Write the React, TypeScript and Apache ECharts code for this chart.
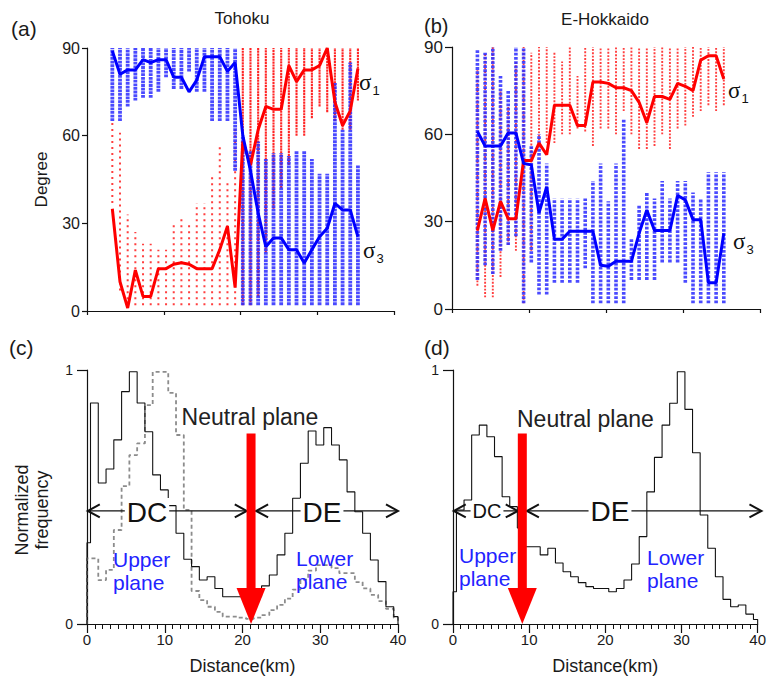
import React, { useEffect, useRef } from "react";
import * as echarts from "echarts";

const FONT = "'Liberation Sans', Arial, Helvetica, sans-serif";

// Column distances (km) of the stress-axis scatter columns
const COL_KM = [3.3, 4.3, 5.3, 6.3, 7.3, 8.3, 9.3, 10.3, 11.3, 12.3, 13.3, 14.3, 15.3, 16.3, 17.3, 18.3, 19.3, 20.3, 21.3, 22.3, 23.3, 24.3, 25.3, 26.3, 27.3, 28.3, 29.3, 30.3, 31.3, 32.3, 33.3, 34.3, 35.3];

// (a) Tohoku
const A_SIGMA1 = [35, 10, 1, 14, 5, 5, 14.5, 14.5, 16, 16.5, 16, 14.5, 14.5, 14.5, 21, 29, 8, 58, 50, 62, 70, 69, 69, 84, 78.5, 82.5, 82.5, 84, 90, 71.5, 63.5, 68.5, 83];
const A_SIGMA3 = [89, 81, 82.5, 82.5, 86, 85, 86, 86, 80, 80, 75, 79, 87, 87, 87, 82, 85, 60, 48, 33.5, 22, 25, 25, 21, 21, 16.4, 21, 25.4, 28.3, 36.8, 34.6, 34.6, 25.4];
const A_RED_LO = [37, 7, 2, 2, 2, 2, 2, 2, 2, 2, 2, 2, 2, 2, 2, 2, 2, 2, 2, 5, 20, 35, 42, 50, 60, 60, 66, 70, 68, 65, 62, 62, 72];
const A_RED_HI = [65, 61, 33, 27, 23, 23, 21, 21, 30, 32, 30, 37, 37, 47, 56, 45, 63, 90, 90, 90, 90, 90, 90, 90, 90, 90, 90, 90, 90, 90, 90, 90, 90];
const A_BLUE_LO = [65, 65, 70, 72, 73, 73, 75, 80, 76, 76, 82, 75, 75, 65, 65, 65, 48, 2, 2, 2, 2, 2, 2, 2, 2, 2, 2, 2, 2, 2, 2, 2, 2];
const A_BLUE_HI = [90, 90, 90, 90, 90, 90, 90, 90, 90, 90, 90, 90, 90, 90, 90, 90, 90, 60, 55, 58, 52, 54, 54, 53, 55, 55, 52, 47, 47, 78, 62, 85, 50];
const A_DENSE_RED_FROM = 17; // columns from this index on have dense red dots

// (b) E-Hokkaido
const B_SIGMA1 = [27, 38, 27, 37, 31, 31, 51, 51, 57, 53, 70, 70, 70, 63, 63, 78, 78, 77.5, 76, 76, 75, 71, 64, 73, 73, 72, 77.5, 76.5, 75, 85.5, 87, 87, 79];
const B_SIGMA3 = [61, 56, 56, 56, 60.5, 60.5, 50, 49.5, 33, 42, 24, 24, 26.7, 26.7, 26.7, 26.7, 15, 14.7, 16.4, 16.4, 16.4, 26, 34, 27, 27, 27, 39, 37.5, 30.7, 30.7, 9, 9, 26];
const B_RED_LO = [8, 4, 4, 11, 22, 20, 2, 20, 58, 57, 57, 60, 60, 62, 61, 56, 62, 62, 60, 68, 60, 55, 55, 56, 60, 55, 62, 63, 66, 68, 70, 68, 70];
const B_RED_HI = [82, 88, 90, 75, 70, 85, 90, 88, 90, 90, 88, 85, 90, 80, 90, 90, 90, 90, 90, 90, 90, 90, 90, 90, 90, 90, 90, 90, 90, 90, 90, 90, 90];
const B_BLUE_LO = [10, 15, 12, 20, 22, 25, 2, 16, 5, 5, 9, 9, 9, 9, 14, 2, 2, 2, 2, 2, 10, 10, 10, 10, 16, 16, 16, 9, 2, 2, 2, 2, 2];
const B_BLUE_HI = [89, 88, 90, 80, 75, 90, 90, 56, 60, 50, 38, 38, 38, 38, 38, 44, 50, 37, 50, 65, 24, 36, 40, 38, 44, 38, 44, 44, 40, 38, 47, 47, 47];

// Histograms: first bin [0,0.45], then 1-km bins from 0.45 km, last [39.45,40]
const BIN_OFFSET = 0.45;
const C_SOLID = [0.32, 0.87, 0.555, 0.61, 0.725, 0.915, 0.993, 0.87, 0.757, 0.587, 0.528, 0.466, 0.357, 0.255, 0.226, 0.173, 0.186, 0.14, 0.107, 0.107, 0.107, 0.107, 0.107, 0.15, 0.193, 0.272, 0.357, 0.495, 0.633, 0.76, 0.705, 0.773, 0.705, 0.646, 0.52, 0.442, 0.357, 0.252, 0.167, 0.068, 0.029];
const C_DASHED = [0.258, 0.258, 0.173, 0.213, 0.37, 0.543, 0.665, 0.711, 0.862, 0.993, 0.993, 0.91, 0.744, 0.449, 0.13, 0.094, 0.068, 0.048, 0.029, 0.029, 0.025, 0.02, 0.025, 0.035, 0.055, 0.075, 0.1, 0.135, 0.175, 0.21, 0.232, 0.232, 0.22, 0.2, 0.2, 0.165, 0.14, 0.115, 0.09, 0.06, 0.025];
const D_SOLID = [0.127, 0.449, 0.488, 0.744, 0.783, 0.737, 0.659, 0.501, 0.462, 0.378, 0.304, 0.304, 0.272, 0.298, 0.24, 0.206, 0.186, 0.163, 0.147, 0.14, 0.14, 0.127, 0.14, 0.173, 0.236, 0.344, 0.52, 0.656, 0.783, 0.869, 0.993, 0.845, 0.674, 0.429, 0.298, 0.186, 0.097, 0.068, 0.075, 0.039, 0.018];

// Annotation positions (data units)
const NEUTRAL_C = 21.1;
const NEUTRAL_D = 9.1;
const ARROW_Y = 0.445;
const C_DC = [0.1, 20.55];
const C_DE = [21.75, 40];
const D_DC = [0.1, 8.5];
const D_DE = [9.7, 40.5];

const DIST_TICKS = [0, 10, 20, 30, 40];
const DEG_TICKS = [0, 30, 60, 90];

const EDGES = [0, ...C_SOLID.slice(1).map((_, i) => i + BIN_OFFSET), 40];

function stepPoints(vals: number[]) {
  const pts: number[][] = [[0, 0]];
  vals.forEach((v, i) => {
    pts.push([EDGES[i], v], [EDGES[i + 1], v]);
  });
  pts.push([40, 0]);
  return pts;
}

function ranges(lo: number[], hi: number[], from = 0, to = COL_KM.length) {
  const out: number[][] = [];
  for (let i = from; i < to; i++) out.push([COL_KM[i], lo[i], hi[i]]);
  return out;
}

function rangeSeries(g: number, data: number[][], color: string, width: number, dash: number[], opacity: number) {
  return {
    type: "custom",
    xAxisIndex: g,
    yAxisIndex: g,
    silent: true,
    z: 2,
    encode: { x: 0, y: [1, 2] },
    data,
    renderItem: (_p: any, api: any) => {
      const x = api.value(0);
      const a = api.coord([x, api.value(1)]);
      const b = api.coord([x, api.value(2)]);
      return {
        type: "line",
        shape: { x1: a[0], y1: a[1], x2: b[0], y2: b[1] },
        style: { stroke: color, lineWidth: width, lineDash: dash, opacity },
      };
    },
  };
}

function sigmaLine(g: number, vals: number[], color: string) {
  return {
    type: "line",
    xAxisIndex: g,
    yAxisIndex: g,
    data: COL_KM.map((x, i) => [x, vals[i]]),
    showSymbol: false,
    symbol: "none",
    z: 5,
    silent: true,
    lineStyle: { color, width: 3 },
  };
}

function histLine(g: number, vals: number[], color: string, width: number, type: any) {
  return {
    type: "line",
    xAxisIndex: g,
    yAxisIndex: g,
    data: stepPoints(vals),
    showSymbol: false,
    symbol: "none",
    silent: true,
    z: 3,
    lineStyle: { color, width, type },
  };
}

const axisLine = { show: true, lineStyle: { color: "#111", width: 1.2 } };

function topX(g: number) {
  return {
    type: "value", gridIndex: g, min: 0, max: 40, interval: 10,
    axisLine, axisTick: { show: true, length: 4, lineStyle: { color: "#111", width: 1.2 } },
    axisLabel: { show: false }, splitLine: { show: false },
  };
}
function topY(g: number, fs: number, margin: number, tick: number, name?: string) {
  return {
    type: "value", gridIndex: g, min: 0, max: 90, interval: 30,
    axisLine, axisTick: { show: true, length: tick, lineStyle: { color: "#111", width: 1.2 } },
    axisLabel: { fontSize: fs, color: "#1a1a1a", fontFamily: FONT, margin, formatter: (v: number) => (DEG_TICKS.includes(v) ? String(v) : "") },
    splitLine: { show: false },
    name, nameLocation: "middle", nameGap: 37, nameRotate: 90,
    nameTextStyle: { fontSize: 17, color: "#1a1a1a", fontFamily: FONT },
  };
}
function botX(g: number) {
  return {
    type: "value", gridIndex: g, min: 0, max: 40, interval: 10,
    axisLine, axisTick: { show: true, length: 9, lineStyle: { color: "#111", width: 1.2 } },
    minorTick: { show: true, splitNumber: 10, length: 5, lineStyle: { color: "#111", width: 1 } },
    axisLabel: { fontSize: 15, color: "#1a1a1a", fontFamily: FONT, margin: 8, formatter: (v: number) => (DIST_TICKS.includes(v) ? String(v) : "") },
    splitLine: { show: false }, minorSplitLine: { show: false },
    name: "Distance(km)", nameLocation: "middle", nameGap: 33,
    nameTextStyle: { fontSize: 18, color: "#1a1a1a", fontFamily: FONT },
  };
}
function botY(g: number) {
  return {
    type: "value", gridIndex: g, min: 0, max: 1, interval: 1,
    axisLine, axisTick: { show: true, length: 10, lineStyle: { color: "#111", width: 1.2 } },
    axisLabel: { fontSize: 14, color: "#1a1a1a", fontFamily: FONT, margin: 14 },
    splitLine: { show: false },
  };
}

const option: any = {
  animation: false,
  backgroundColor: "#fff",
  textStyle: { fontFamily: FONT },
  grid: [
    { left: 87, top: 48, width: 307, height: 263 },
    { left: 452, top: 47, width: 308, height: 262 },
    { left: 87, top: 370, width: 311, height: 254 },
    { left: 453, top: 370, width: 310, height: 254 },
  ],
  xAxis: [topX(0), topX(1), botX(2), botX(3)],
  yAxis: [topY(0, 16, 7, 5, "Degree"), topY(1, 17, 9, 7), botY(2), botY(3)],
  series: [
    rangeSeries(0, ranges(A_RED_LO, A_RED_HI, 0, A_DENSE_RED_FROM), "#ff2a2a", 2.0, [2, 4], 0.9),
    rangeSeries(0, ranges(A_RED_LO, A_RED_HI, A_DENSE_RED_FROM), "#ff1a1a", 2.1, [2.2, 0.7], 0.95),
    rangeSeries(0, ranges(A_BLUE_LO, A_BLUE_HI), "#2a2aff", 3.8, [2.8, 0.8], 0.85),
    sigmaLine(0, A_SIGMA1, "#ff0000"),
    sigmaLine(0, A_SIGMA3, "#0000ff"),
    rangeSeries(1, ranges(B_RED_LO, B_RED_HI), "#ff2a2a", 1.9, [1.9, 1.5], 0.9),
    rangeSeries(1, ranges(B_BLUE_LO, B_BLUE_HI), "#2a2aff", 3.6, [2.8, 1.4], 0.85),
    sigmaLine(1, B_SIGMA1, "#ff0000"),
    sigmaLine(1, B_SIGMA3, "#0000ff"),
    histLine(2, C_DASHED, "#8c8c8c", 1.8, [4, 3]),
    histLine(2, C_SOLID, "#111", 1.1, "solid"),
    histLine(3, D_SOLID, "#111", 1.1, "solid"),
  ],
};

function buildGraphics(chart: any) {
  const px = (g: number, x: number, y: number) => chart.convertToPixel({ gridIndex: g }, [x, y]) as number[];
  const els: any[] = [];
  const text = (x: number, y: number, t: string, o: any = {}) =>
    els.push({
      type: "text", x, y, z: 30, silent: true,
      rotation: o.rotation || 0,
      style: { text: t, fontFamily: FONT, fontSize: 17, fill: "#1a1a1a", align: "left", verticalAlign: "middle", ...o.style },
    });

  // Panel labels and titles
  text(11, 28, "(a)", { style: { fontSize: 21 } });
  text(242, 18, "Tohoku", { style: { fontSize: 17, align: "center" } });
  text(424, 26, "(b)", { style: { fontSize: 20 } });
  text(605, 19, "E-Hokkaido", { style: { fontSize: 17, align: "center" } });
  text(9, 347, "(c)", { style: { fontSize: 21 } });
  text(424, 347, "(d)", { style: { fontSize: 21 } });
  text(32, 510, "Normalized\nfrequency", { rotation: Math.PI / 2, style: { fontSize: 18, align: "center", lineHeight: 20 } });

  // sigma labels
  const sig = (x: number, y: number, n: string) =>
    els.push({
      type: "text", x, y, z: 30, silent: true,
      style: {
        text: `{s|σ}{n|${n}}`, align: "left", verticalAlign: "middle",
        rich: {
          s: { fontFamily: "'Liberation Serif', 'DejaVu Serif', serif", fontSize: 23, fill: "#111", lineHeight: 26, verticalAlign: "bottom" },
          n: { fontFamily: FONT, fontSize: 13, fill: "#111", lineHeight: 26, verticalAlign: "bottom", padding: [0, 0, -3, 1] },
        },
      },
    });
  sig(359, 81, "1");
  sig(363, 249, "3");
  sig(728, 89, "1");
  sig(733, 240, "3");

  // Double arrows
  const dbl = (g: number, x1: number, x2: number) => {
    const a = px(g, x1, ARROW_Y);
    const b = px(g, x2, ARROW_Y);
    const y = a[1];
    const st = { stroke: "#111", lineWidth: 1.3, fill: "none" };
    els.push({ type: "line", z: 12, silent: true, shape: { x1: a[0], y1: y, x2: b[0], y2: y }, style: st });
    els.push({ type: "polyline", z: 12, silent: true, shape: { points: [[a[0] + 12, y - 6.5], [a[0], y], [a[0] + 12, y + 6.5]] }, style: { ...st, lineWidth: 2 } });
    els.push({ type: "polyline", z: 12, silent: true, shape: { points: [[b[0] - 12, y - 6.5], [b[0], y], [b[0] - 12, y + 6.5]] }, style: { ...st, lineWidth: 2 } });
  };
  dbl(2, C_DC[0], C_DC[1]);
  dbl(2, C_DE[0], C_DE[1]);
  dbl(3, D_DC[0], D_DC[1]);
  dbl(3, D_DE[0], D_DE[1]);

  // Red arrows (neutral plane)
  const redArrow = (g: number, k: number) => {
    const top = px(g, k, 0.75);
    const tip = px(g, k, 0);
    const headH = 36;
    els.push({ type: "rect", z: 15, silent: true, shape: { x: top[0] - 4.5, y: top[1], width: 9, height: tip[1] - headH - top[1] + 1 }, style: { fill: "#ff0000" } });
    els.push({ type: "polygon", z: 15, silent: true, shape: { points: [[tip[0] - 14.5, tip[1] - headH], [tip[0] + 14.5, tip[1] - headH], [tip[0], tip[1]]] }, style: { fill: "#ff0000" } });
  };
  redArrow(2, NEUTRAL_C);
  redArrow(3, NEUTRAL_D);

  const boxed = { backgroundColor: "#fff", padding: [0, 2, 0, 2] };
  // (c) texts
  text(250, 417, "Neutral plane", { style: { fontSize: 23, align: "center", fill: "#222" } });
  text(147, 512, "DC", { style: { fontSize: 28, align: "center", fill: "#111", ...boxed } });
  text(322, 512, "DE", { style: { fontSize: 28, align: "center", fill: "#111", ...boxed } });
  text(113, 571, "Upper\nplane", { style: { fontSize: 21, lineHeight: 23, fill: "#2323ff" } });
  text(296, 570, "Lower\nplane", { style: { fontSize: 21, lineHeight: 23, fill: "#2323ff" } });
  // (d) texts
  text(517, 419, "Neutral plane", { style: { fontSize: 23, fill: "#222" } });
  text(487, 511, "DC", { style: { fontSize: 20, align: "center", fill: "#111", ...boxed } });
  text(610, 511, "DE", { style: { fontSize: 28, align: "center", fill: "#111", ...boxed } });
  text(459, 567, "Upper\nplane", { style: { fontSize: 21, lineHeight: 23, fill: "#2323ff" } });
  text(647, 569, "Lower\nplane", { style: { fontSize: 21, lineHeight: 23, fill: "#2323ff" } });
  return els;
}

export default function App() {
  const ref = useRef<HTMLDivElement>(null);
  useEffect(() => {
    const chart = echarts.init(ref.current!, null, { renderer: "svg" });
    chart.setOption(option);
    chart.setOption({ graphic: buildGraphics(chart) });
    return () => chart.dispose();
  }, []);
  return <div ref={ref} style={{ position: "fixed", left: 0, top: 0, width: 769, height: 676, background: "#fff" }} />;
}
